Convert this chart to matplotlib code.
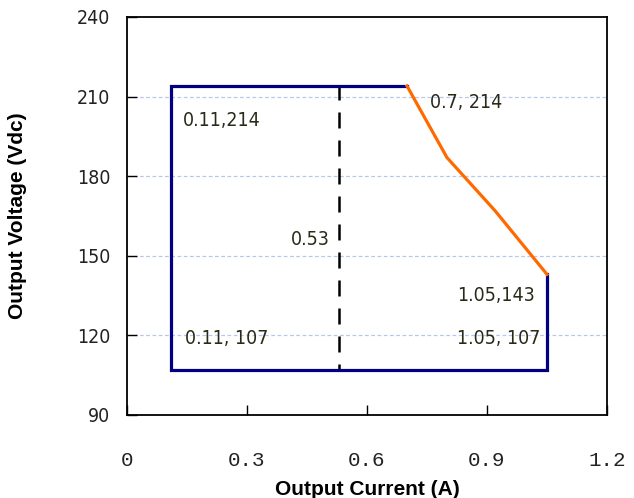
import os
import matplotlib
matplotlib.use('Agg')
import matplotlib.pyplot as plt
from matplotlib import font_manager

# data
box_x = [0.7, 0.11, 0.11, 1.05, 1.05]
box_y = [214, 214, 107, 107, 143]
curve_x = [0.7, 0.8, 0.92, 1.05]
curve_y = [214, 187, 167, 143]
split_x = 0.53
split_y = [107, 214]
notes = ['0.11,214', '0.7, 214', '0.53', '1.05,143', '1.05, 107', '0.11, 107']
note_x = [0.14, 0.757, 0.41, 0.825, 0.825, 0.145]
note_y = [200.8, 207.6, 156, 135, 119, 119]
xticks = [0, 0.3, 0.6, 0.9, 1.2]
xtick_labels = ['0', '0.3', '0.6', '0.9', '1.2']
yticks = [90, 120, 150, 180, 210, 240]

# condensed upright face for the numbers, if there is one
cond = [f.fname for f in font_manager.fontManager.ttflist
        if os.path.basename(f.fname) == 'DejaVuSansCondensed.ttf']
if cond:
    narrow = font_manager.FontProperties(fname=cond[0], size=14)
else:
    narrow = font_manager.FontProperties(family='DejaVu Sans', size=13)

fig = plt.figure(figsize=(6.34, 4.98), dpi=100)
ax = fig.add_axes([0.2003, 0.1667, 0.7571, 0.7992])

for y in yticks[1:-1]:
    ax.axhline(y, color='#b8c8ea', lw=0.9, ls=(0, (3, 2)), zorder=1)

ax.plot(box_x, box_y, color='#000080', lw=2.3, solid_joinstyle='miter', zorder=3)
ax.plot(curve_x, curve_y, color='#ff6a00', lw=2.3, zorder=3)
ax.plot([split_x, split_x], split_y, color='black', lw=1.8, ls=(4, (6.4, 4.8)), zorder=2)

for t, x, y in zip(notes, note_x, note_y):
    ax.text(x, y, t, fontproperties=narrow, color='#2a2a18', ha='left', va='center')

ax.set_xlim(0, 1.2)
ax.set_ylim(90, 240)
ax.set_xticks(xticks)
ax.set_xticklabels(xtick_labels, family='Liberation Mono', fontsize=15, color='#222222')
ax.set_yticks(yticks)
ax.set_yticklabels([str(v) for v in yticks], fontproperties=narrow, color='#222222')
ax.tick_params(axis='x', direction='in', length=7, width=1, pad=26)
ax.tick_params(axis='y', direction='in', length=7, width=1, pad=12)
ax.tick_params(axis='x', which='both', top=False)
ax.tick_params(axis='y', which='both', right=False)
for s in ax.spines.values():
    s.set_linewidth(1.3)

fig.text(0.5 * (0.2003 + 0.9574), 0.018, 'Output Current (A)', ha='center', va='center',
         fontsize=15, fontweight='bold', family='Liberation Sans')
fig.text(0.028, 0.1667 + 0.7992 / 2, 'Output Voltage (Vdc)', ha='center', va='center', rotation=90,
         fontsize=15, fontweight='bold', family='Liberation Sans')

fig.savefig('out.png', dpi=100)
